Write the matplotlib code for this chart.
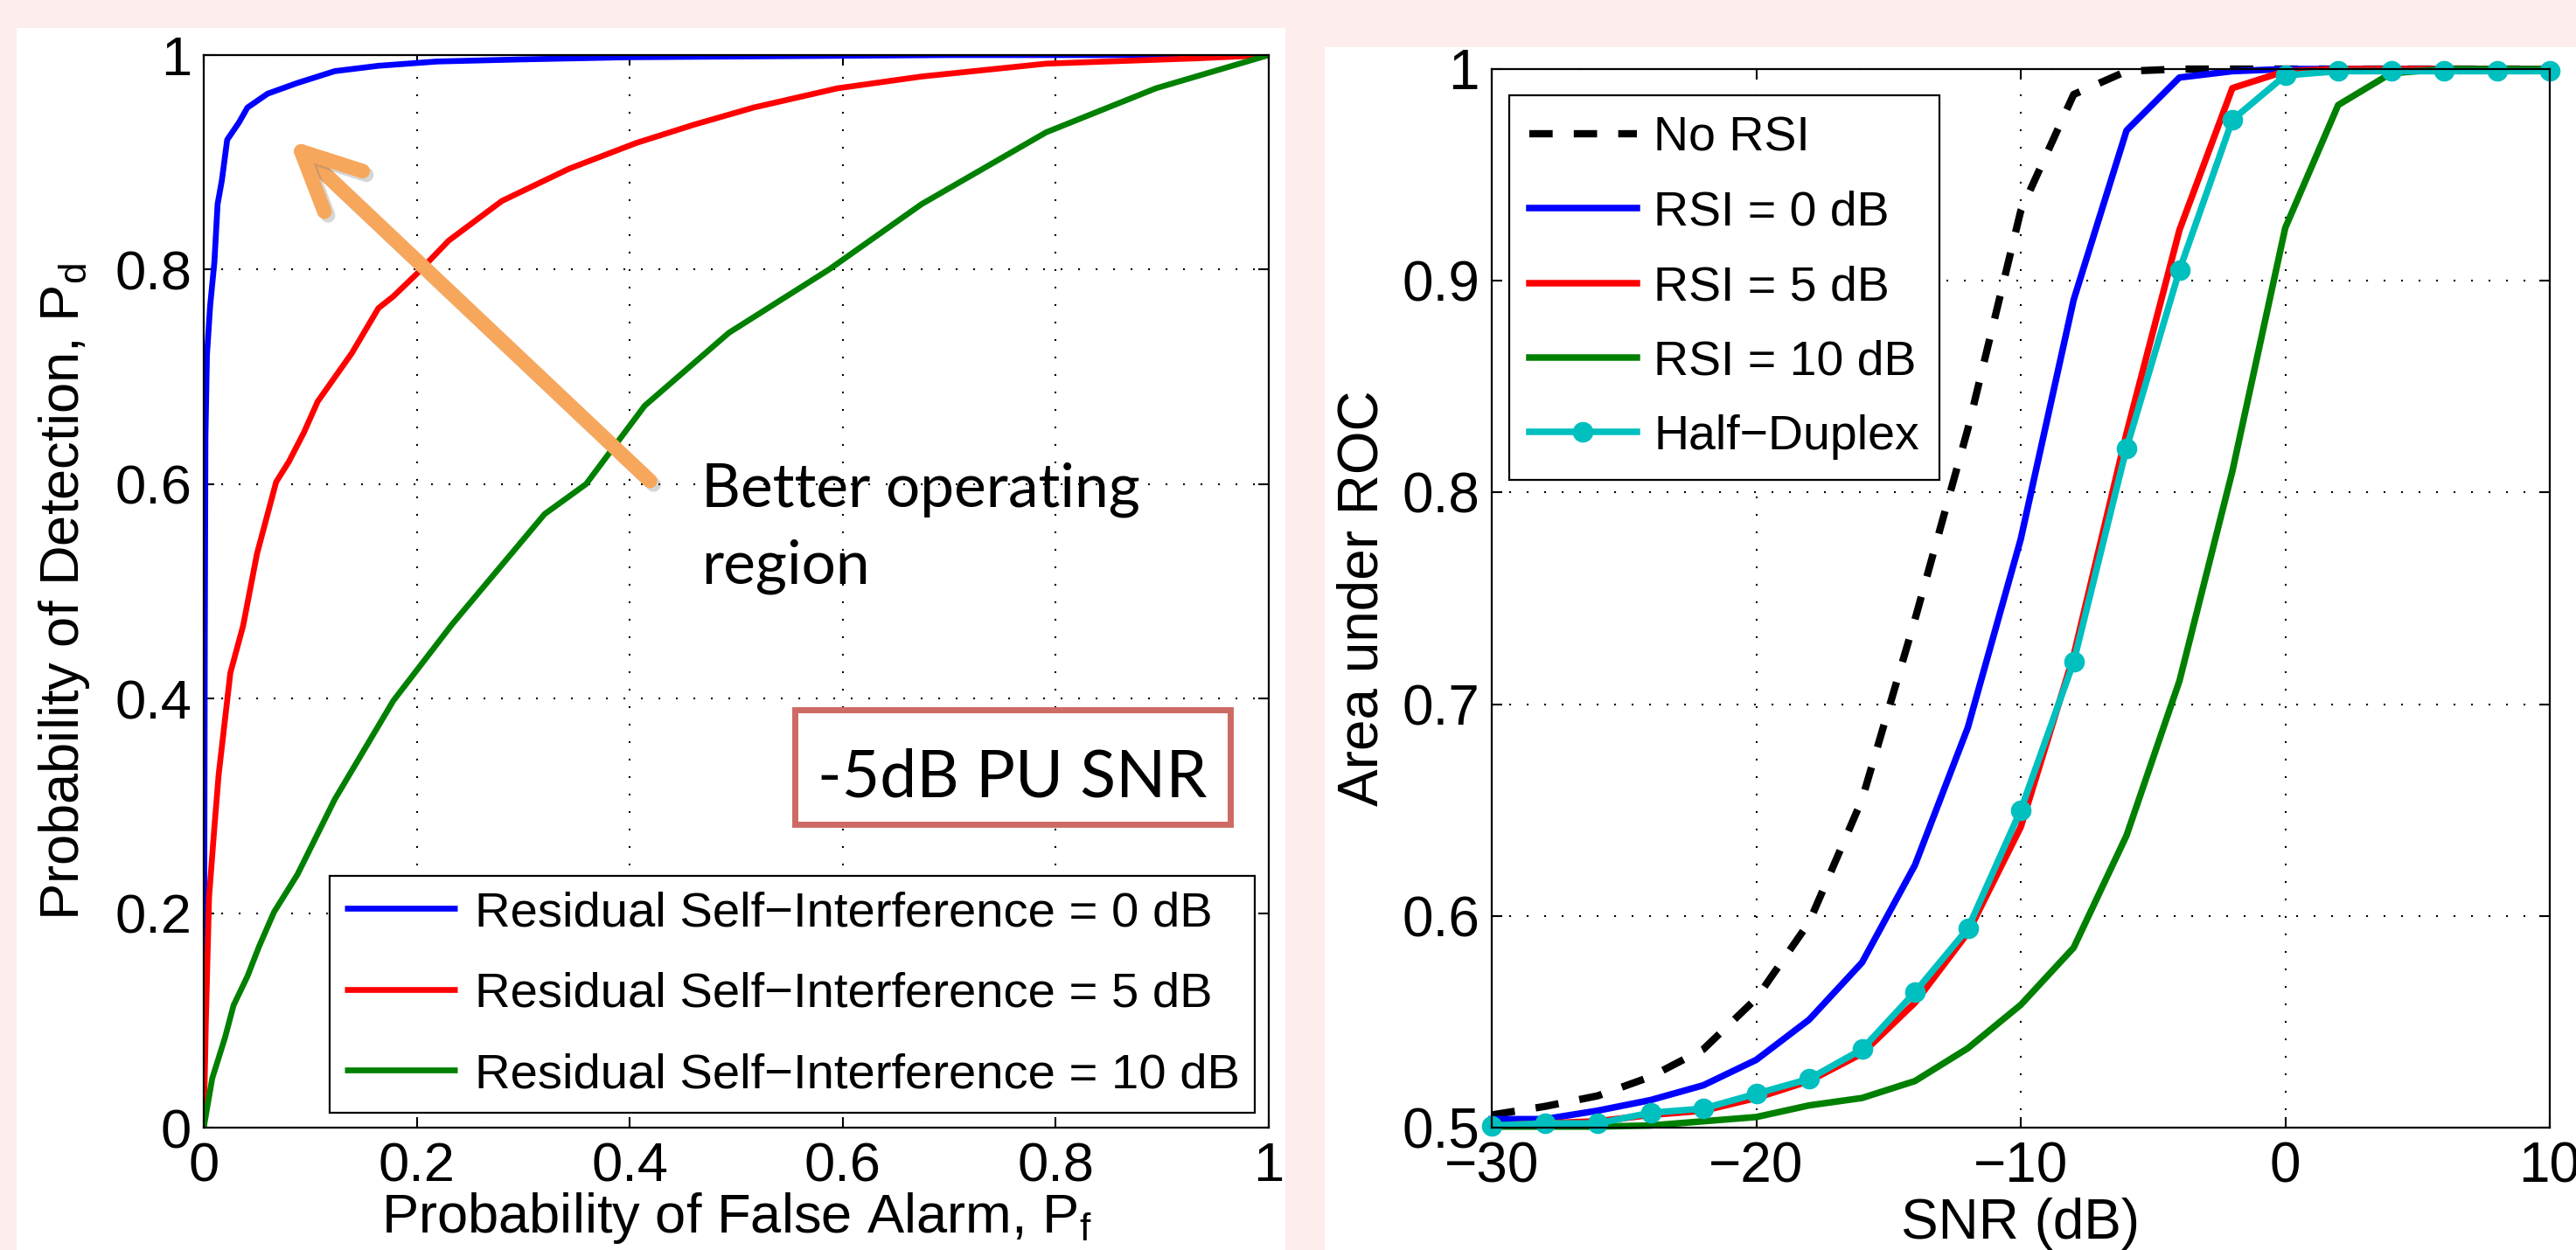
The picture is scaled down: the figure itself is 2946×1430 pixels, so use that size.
import matplotlib
matplotlib.use("Agg")
import matplotlib.pyplot as plt
from matplotlib.patches import Rectangle, FancyArrowPatch
import matplotlib.patheffects as pe

plt.rcParams['font.family'] = ['Liberation Sans', 'DejaVu Sans']
plt.rcParams['mathtext.default'] = 'regular'

# ---------------- Left panel data (ROC curves, -5 dB PU SNR) ----------------
pf_rsi0 = [0, 0.0005, 0.001, 0.0016, 0.003, 0.006, 0.010, 0.013, 0.017, 0.022, 0.033, 0.041,
           0.060, 0.088, 0.123, 0.164, 0.219, 0.30, 0.40, 0.55, 0.70, 0.85, 1.0]
pd_rsi0 = [0, 0.20, 0.45, 0.644, 0.72, 0.766, 0.807, 0.861, 0.883, 0.921, 0.937, 0.951,
           0.964, 0.974, 0.985, 0.990, 0.994, 0.996, 0.998, 0.999, 1.0, 1.0, 1.0]

pf_rsi5 = [0, 0.002, 0.005, 0.010, 0.014, 0.025, 0.037, 0.050, 0.068, 0.080, 0.094, 0.107,
           0.139, 0.164, 0.178, 0.200, 0.230, 0.280, 0.343, 0.406, 0.460, 0.516, 0.595,
           0.674, 0.791, 0.933, 1.0]
pd_rsi5 = [0, 0.10, 0.215, 0.28, 0.329, 0.424, 0.468, 0.535, 0.602, 0.621, 0.648, 0.677,
           0.722, 0.764, 0.775, 0.796, 0.827, 0.864, 0.894, 0.918, 0.935, 0.951, 0.969,
           0.980, 0.992, 0.997, 1.0]

pf_rsi10 = [0, 0.008, 0.020, 0.028, 0.041, 0.052, 0.066, 0.088, 0.123, 0.178, 0.233, 0.320,
            0.359, 0.414, 0.493, 0.587, 0.674, 0.791, 0.894, 1.0]
pd_rsi10 = [0, 0.046, 0.084, 0.114, 0.141, 0.169, 0.201, 0.236, 0.306, 0.398, 0.469, 0.572,
            0.600, 0.673, 0.741, 0.800, 0.861, 0.928, 0.969, 1.0]

left_labels = ["Residual Self\u2212Interference = 0 dB",
               "Residual Self\u2212Interference = 5 dB",
               "Residual Self\u2212Interference = 10 dB"]
left_ticks = [0, 0.2, 0.4, 0.6, 0.8, 1]
left_ticklabels = ["0", "0.2", "0.4", "0.6", "0.8", "1"]

# ---------------- Right panel data (AUC vs SNR) ----------------
snr_db = [-30, -28, -26, -24, -22, -20, -18, -16, -14, -12, -10, -8, -6, -4, -2, 0, 2, 4, 6, 8, 10]
auc_no_rsi = [0.506, 0.510, 0.515, 0.524, 0.537, 0.561, 0.597, 0.655, 0.740, 0.830, 0.933,
              0.988, 0.999, 1.0, 1.0, 1.0, 1.0, 1.0, 1.0, 1.0, 1.0]
auc_rsi0 = [0.504, 0.504, 0.508, 0.513, 0.520, 0.532, 0.551, 0.578, 0.624, 0.689, 0.778,
            0.891, 0.971, 0.996, 0.999, 1.0, 1.0, 1.0, 1.0, 1.0, 1.0]
auc_rsi5 = [0.501, 0.502, 0.503, 0.506, 0.508, 0.514, 0.522, 0.535, 0.559, 0.592, 0.642,
            0.723, 0.828, 0.924, 0.991, 0.999, 1.0, 1.0, 1.0, 1.0, 1.0]
auc_rsi10 = [0.5005, 0.5005, 0.5005, 0.501, 0.503, 0.505, 0.5105, 0.514, 0.522, 0.5375, 0.558,
             0.585, 0.638, 0.711, 0.810, 0.925, 0.983, 0.998, 1.0, 1.0, 1.0]
auc_half = [0.501, 0.502, 0.502, 0.507, 0.509, 0.516, 0.523, 0.537, 0.564, 0.594, 0.650,
            0.720, 0.821, 0.905, 0.976, 0.997, 0.999, 0.999, 0.999, 0.999, 0.999]
right_labels = ["No RSI", "RSI = 0 dB", "RSI = 5 dB", "RSI = 10 dB", "Half\u2212Duplex"]
right_xticks = [-30, -20, -10, 0, 10]
right_yticks = [0.5, 0.6, 0.7, 0.8, 0.9, 1.0]
right_yticklabels = ["0.5", "0.6", "0.7", "0.8", "0.9", "1"]

# ---------------- Figure ----------------
W, H = 2946, 1430
fig = plt.figure(figsize=(W / 100, H / 100), dpi=100, facecolor='#fdeded')
fig.patches.append(Rectangle((19 / W, 0), (1470 - 19) / W, (1430 - 32) / H,
                             transform=fig.transFigure, facecolor='white', edgecolor='none', zorder=-5))
fig.patches.append(Rectangle((1515 / W, 0), (2946 - 1515) / W, (1430 - 54) / H,
                             transform=fig.transFigure, facecolor='white', edgecolor='none', zorder=-5))

grid_ls = (0, (1, 8.6))


def style_axes(ax, fs):
    ax.set_facecolor('white')
    for s in ax.spines.values():
        s.set_linewidth(1.6)
        s.set_color('black')
    ax.tick_params(direction='in', length=8.6, width=1.5, top=True, right=True,
                   labelsize=fs, colors='black')
    ax.tick_params(axis='x', pad=11)
    ax.tick_params(axis='y', pad=10)
    ax.grid(True, linestyle=grid_ls, linewidth=1.5, color='black')
    ax.set_axisbelow(True)


# ---- Left axes ----
FS1 = 45.5
ax1 = fig.add_axes([233 / W, 140 / H, 1218 / W, 1227 / H])
style_axes(ax1, FS1)
lw_l = 4.8
ax1.plot(pf_rsi0, pd_rsi0, color='#0000ff', lw=lw_l, label=left_labels[0], solid_capstyle='butt')
ax1.plot(pf_rsi5, pd_rsi5, color='#ff0000', lw=lw_l, label=left_labels[1], solid_capstyle='butt')
ax1.plot(pf_rsi10, pd_rsi10, color='#008000', lw=lw_l, label=left_labels[2], solid_capstyle='butt')
ax1.set_xlim(0, 1)
ax1.set_ylim(0, 1)
ax1.set_xticks(left_ticks)
ax1.set_xticklabels(left_ticklabels)
ax1.set_yticks(left_ticks)
ax1.set_yticklabels(left_ticklabels)
ax1.set_xlabel("Probability of False Alarm, $P_f$", fontsize=FS1)
ax1.set_ylabel("Probability of Detection, $P_d$", fontsize=FS1)
ax1.xaxis.set_label_coords(0.5, -0.0587)
ax1.yaxis.set_label_coords(-0.105, 0.5)

leg1 = ax1.legend(loc='lower right', bbox_to_anchor=(1435 / W, (1430 - 1273) / H),
                  bbox_transform=fig.transFigure, fontsize=40.5, handlelength=2.3,
                  handletextpad=0.35, labelspacing=0.72, borderpad=0.3, borderaxespad=0,
                  fancybox=False, framealpha=1, edgecolor='black')
leg1.get_frame().set_linewidth(1.6)

# Arrow annotation
arrow = FancyArrowPatch((0.419, 0.603), (0.080, 0.921),
                        arrowstyle='->,head_length=48,head_width=23', mutation_scale=1,
                        shrinkA=0, shrinkB=0,
                        color='#f7a75c', lw=12, capstyle='round', joinstyle='round',
                        transform=ax1.transData, zorder=5)
arrow.set_path_effects([pe.SimpleLineShadow(offset=(3, -3), shadow_color='#777777', alpha=0.3),
                        pe.Normal()])
ax1.add_patch(arrow)

ax1.text(0.467, (1290 - 668) / 1227, "Better operating\nregion", fontsize=50,
         family=['Lato', 'DejaVu Sans'], ha='left', va='baseline', linespacing=1.5, zorder=6)

box_x0, box_x1 = (909 - 233) / 1218, (1407 - 233) / 1218
box_y0, box_y1 = (1290 - 943) / 1227, (1290 - 812) / 1227
ax1.add_patch(Rectangle((box_x0, box_y0), box_x1 - box_x0, box_y1 - box_y0,
                        transform=ax1.transAxes, facecolor='white', edgecolor='#cd6a64',
                        lw=5, zorder=6))
ax1.text((box_x0 + box_x1) / 2, (1290 - 912) / 1227, "-5dB PU SNR", transform=ax1.transAxes,
         fontsize=54, family=['Lato', 'DejaVu Sans'], ha='center', va='baseline', zorder=7)

# ---- Right axes ----
FS2 = 46
ax2 = fig.add_axes([1706 / W, 140 / H, 1210 / W, 1211 / H])
style_axes(ax2, FS2)
lw_r = 5.4
ax2.plot(snr_db, auc_no_rsi, color='black', lw=6.0, dashes=(3.2, 2.9), label=right_labels[0],
         clip_on=False, dash_capstyle='butt')
ax2.plot(snr_db, auc_rsi0, color='#0000ff', lw=lw_r, label=right_labels[1], clip_on=False)
ax2.plot(snr_db, auc_rsi5, color='#ff0000', lw=lw_r, label=right_labels[2], clip_on=False)
ax2.plot(snr_db, auc_rsi10, color='#008000', lw=lw_r, label=right_labels[3], clip_on=False)
ax2.plot(snr_db, auc_half, color='#00bfbf', lw=lw_r, marker='o', markersize=16,
         label=right_labels[4], clip_on=False)
ax2.set_xlim(-30, 10)
ax2.set_ylim(0.5, 1.0)
ax2.set_xticks(right_xticks)
ax2.set_yticks(right_yticks)
ax2.set_yticklabels(right_yticklabels)
ax2.set_xlabel("SNR (dB)", fontsize=FS2)
ax2.set_ylabel("Area under ROC", fontsize=FS2)
ax2.xaxis.set_label_coords(0.5, -0.066)
ax2.yaxis.set_label_coords(-0.0975, 0.5)

leg2 = ax2.legend(loc='upper left', bbox_to_anchor=(1726 / W, (1430 - 109) / H),
                  bbox_transform=fig.transFigure, fontsize=40, handlelength=2.2,
                  handletextpad=0.35, labelspacing=0.6, borderpad=0.42, borderaxespad=0,
                  fancybox=False, framealpha=1, edgecolor='black')
leg2.get_frame().set_linewidth(1.6)

fig.savefig("out.png", dpi=100, facecolor=fig.get_facecolor())
